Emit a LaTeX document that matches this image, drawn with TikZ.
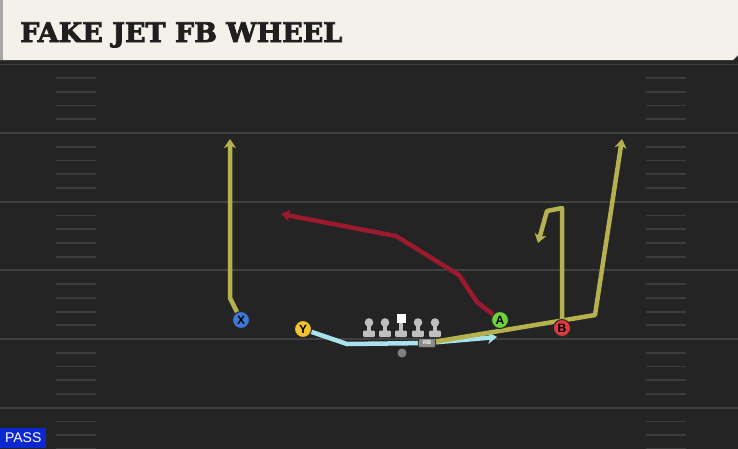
\documentclass[tikz,border=0pt]{standalone}
\usepackage{fontspec}
\setsansfont{Liberation Sans}
\newfontfamily\titlefont{DejaVu Serif Bold}[FakeBold=3]
\usetikzlibrary{arrows.meta,positioning}
\definecolor{turf}{HTML}{242424}
\definecolor{cream}{HTML}{F4F1EA}
\definecolor{olive}{HTML}{B4B14E}
\definecolor{crimson}{HTML}{9C1A2E}
\definecolor{skyblue}{HTML}{A8E2EE}
\definecolor{xblue}{HTML}{3B78D8}
\definecolor{yyellow}{HTML}{F2C230}
\definecolor{agreen}{HTML}{6CD33C}
\definecolor{bred}{HTML}{E0393E}
\definecolor{passblue}{HTML}{0B28D0}
\pgfdeclarelayer{field}
\pgfdeclarelayer{routes}
\pgfsetlayers{field,routes,main}

\begin{document}
\begin{tikzpicture}[x=1pt, y=-1pt,
       player/.style={circle, draw=black!85, line width=1pt, minimum size=17pt, inner sep=0pt, font=\sffamily\bfseries\fontsize{12}{12}\selectfont},
       route/.style={line width=4.5pt, line join=round, -{Stealth[length=9pt, width=12pt, inset=2.5pt]}},
       yardline/.style={draw=white!13!turf, line width=2pt},
       hash/.style={draw=white!11!turf, line width=1.8pt},
       lineman/.style={fill=black!25}
   ]
   \useasboundingbox (0,0) rectangle (738,448);

   \begin{pgfonlayer}{field}
   \clip (-3,-3) rectangle (741,451);
   \fill[turf] (-3,-3) rectangle (741,451);
   \foreach \yl in {64.3,133,201.7,270.4,339.1,407.8} {
      \draw[yardline] (-3,\yl) -- (741,\yl);
      \foreach \k in {1,...,4} {
         \draw[hash] (56,\yl+13.74*\k) -- (96,\yl+13.74*\k);
         \draw[hash] (646,\yl+13.74*\k) -- (686,\yl+13.74*\k);
      }
   }
   \fill[black!85] (-3,58) rectangle (741,64);
   \fill[cream] (-3,-3) -- (741,-3) -- (738,55) -- (733,60) -- (-3,60) -- cycle;
   \fill[black!35] (-3,-3) rectangle (2.5,60);
   \end{pgfonlayer}

   \node[anchor=base west, inner sep=0pt, text=black!88, font=\titlefont\fontsize{27}{27}\selectfont] (title) at (20,42) {FAKE JET FB WHEEL};

   \foreach \x in {369,385,401,418,435} {
      \fill[lineman] (\x-2.2,321) rectangle (\x+2.2,332);
      \fill[lineman, rounded corners=1pt] (\x-5.8,330.5) rectangle (\x+5.8,337);
   }
   \foreach \x in {369,385,418,435}
      \fill[lineman] (\x,322.5) circle (4.3);
   \fill[white] (397,314) rectangle (406,323);

   \node[player, fill=xblue] (x) at (241,320) {X};
   \node[player, fill=yyellow] (y) at (303,329) {Y};
   \node[player, fill=agreen] (a) at (500,320) {A};
   \node[player, fill=bred] (b) at (562,328) {B};
   \node[rectangle, rounded corners=2pt, fill=black!45, draw=black!80, line width=0.6pt, minimum width=17pt, minimum height=9pt, inner sep=0pt, text=white, font=\sffamily\bfseries\fontsize{5.5}{5.5}\selectfont] (rb) at (427,343) {RB};
   \node[circle, fill=black!50, minimum size=9pt, inner sep=0pt] (qb) at (402,353) {};
   \node[anchor=south west, fill=passblue, text=white, minimum width=46pt, minimum height=20pt, inner sep=0pt, font=\sffamily\fontsize{14}{14}\selectfont] (pass) at (0,448) {PASS};

   \coordinate (xbend) at (230,298);
   \coordinate (xend) at (230,139);
   \coordinate (ybend) at (347,344);
   \coordinate (yend) at (497,337);
   \coordinate (rbbend) at (595,315);
   \coordinate (rbend) at (622,139);
   \coordinate (bup) at (562,208);
   \coordinate (bback) at (547,211);
   \coordinate (bend) at (538,243);
   \coordinate (aone) at (477,302);
   \coordinate (atwo) at (459,275);
   \coordinate (athree) at (396,236);
   \coordinate (aend) at (281,214);

   \begin{pgfonlayer}{routes}
   \draw[route, olive] (x.center) -- (xbend) -- (xend);
   \draw[route, skyblue] (y.center) -- (ybend) -- (rb.center) -- (yend);
   \draw[route, olive] (rb.center) -- (rbbend) -- (rbend);
   \draw[route, olive] (b.center) -- (bup) -- (bback) -- (bend);
   \draw[route, crimson] (a.center) -- (aone) -- (atwo) -- (athree) -- (aend);
   \end{pgfonlayer}
\end{tikzpicture}
\end{document}
